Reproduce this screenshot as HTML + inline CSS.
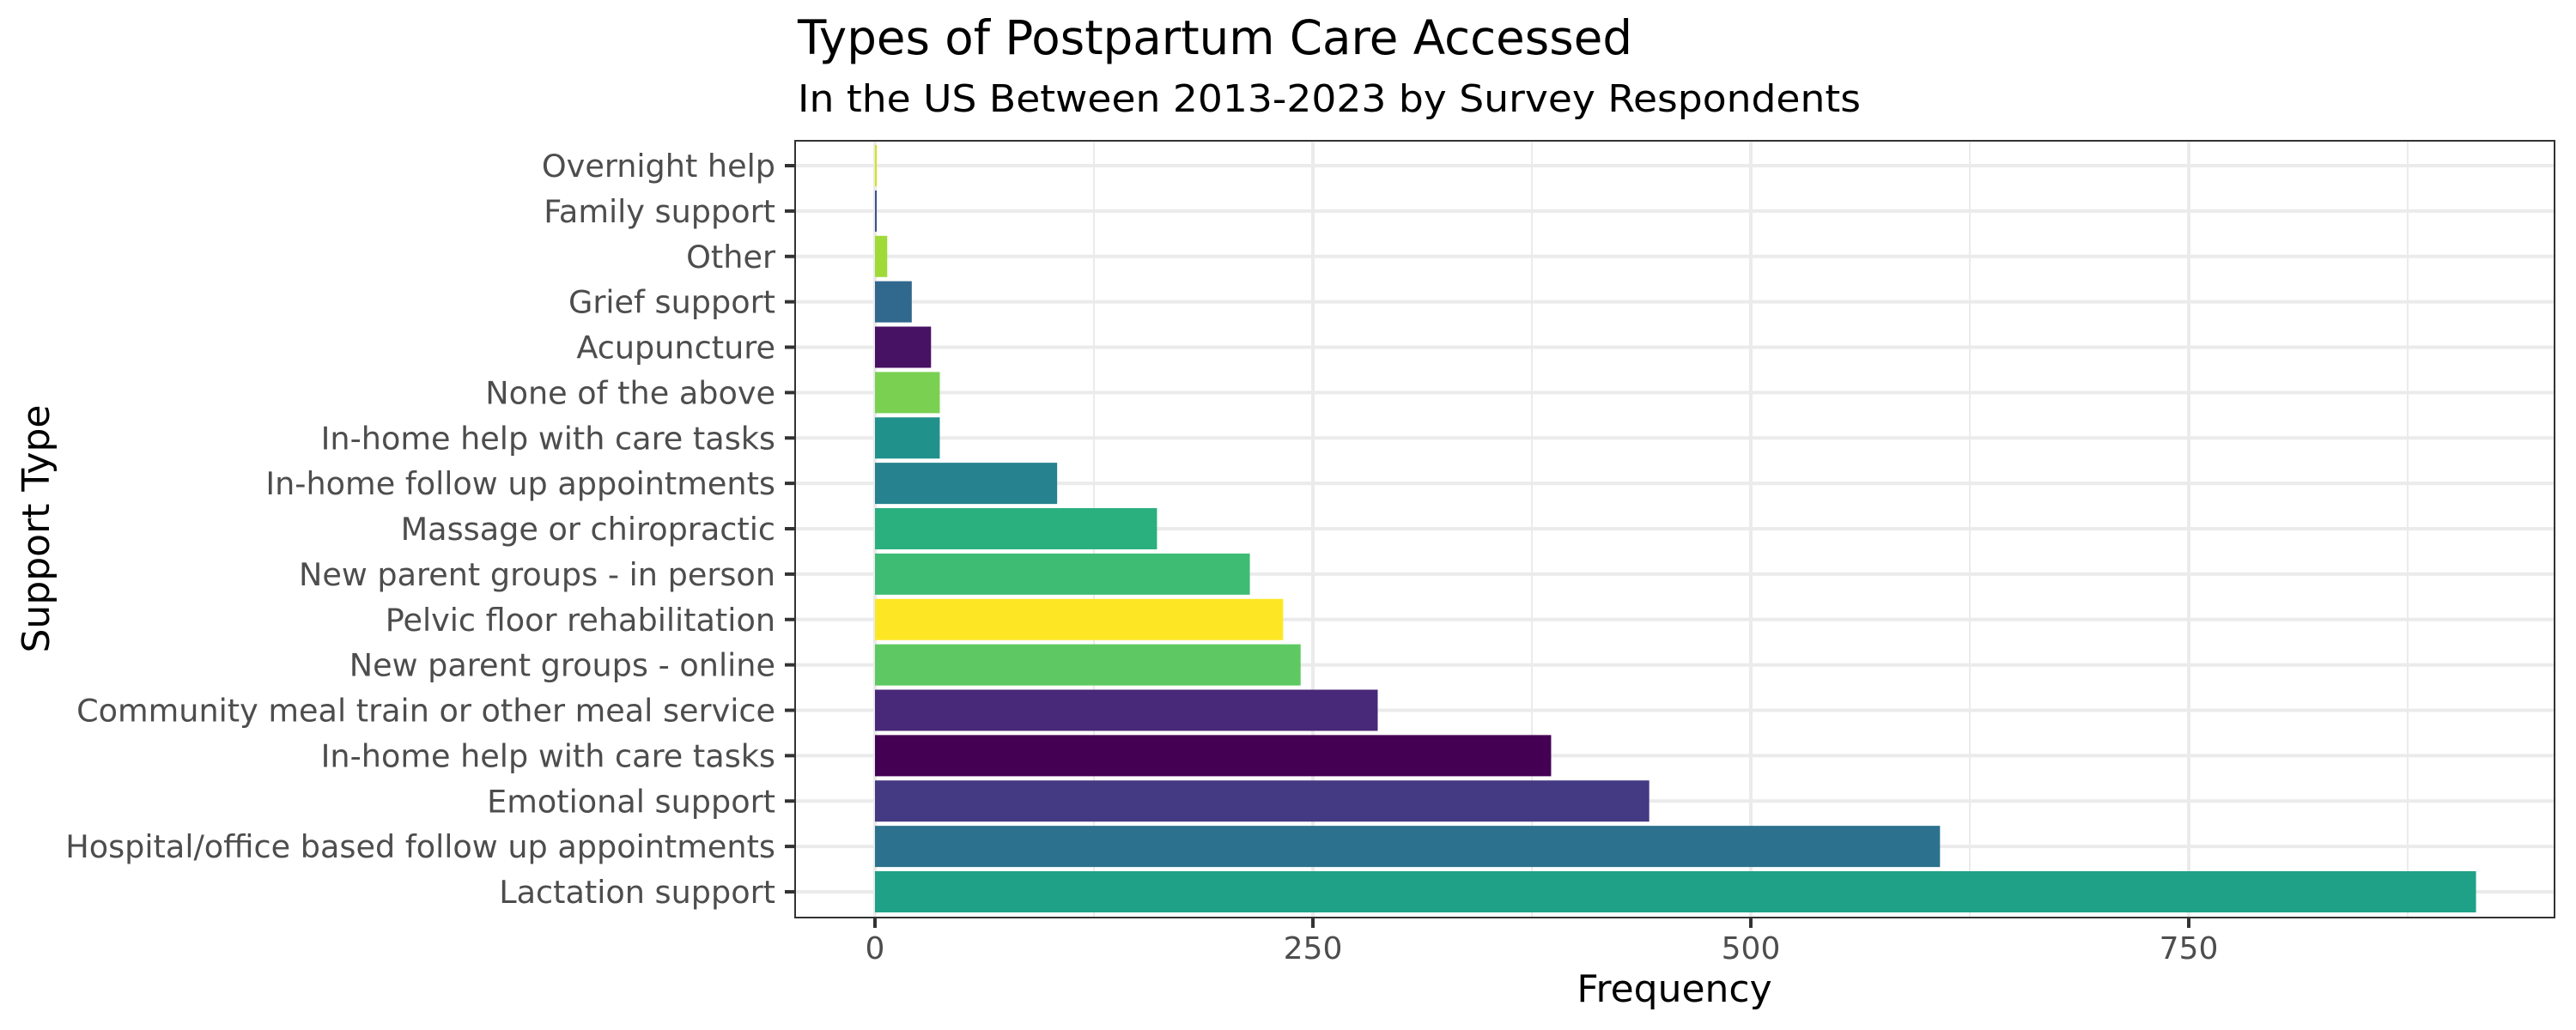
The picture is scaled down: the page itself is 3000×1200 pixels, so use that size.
<!DOCTYPE html>
<html><head><meta charset="utf-8"><style>
html,body{margin:0;padding:0;background:#fff;}
svg{display:block;font-family:"DejaVu Sans","Liberation Sans",sans-serif;}
</style></head><body>
<svg id="chart" width="3000" height="1200" viewBox="0 0 3000 1200">
<text x="929" y="63" font-size="55" fill="#000" textLength="972" lengthAdjust="spacingAndGlyphs">Types of Postpartum Care Accessed</text>
<text x="929" y="130" font-size="44" fill="#000" textLength="1238" lengthAdjust="spacingAndGlyphs">In the US Between 2013-2023 by Survey Respondents</text>
<g id="grid"></g>
<g id="bars"></g>
<rect x="926" y="164" width="2049" height="905" fill="none" stroke="#333" stroke-width="2"/>
<g id="yaxis"></g>
<g id="xaxis"></g>
<text x="1950" y="1167" font-size="44" text-anchor="middle" fill="#000">Frequency</text>
<text transform="translate(57,616) rotate(-90)" font-size="44" text-anchor="middle" fill="#000">Support Type</text>
</svg>
<script>
const categories = ["Overnight help","Family support","Other","Grief support","Acupuncture","None of the above","In-home help with care tasks","In-home follow up appointments","Massage or chiropractic","New parent groups - in person","Pelvic floor rehabilitation","New parent groups - online","Community meal train or other meal service","In-home help with care tasks","Emotional support","Hospital/office based follow up appointments","Lactation support"];
const values = [1,1,7,21,32,37,37,104,161,214,233,243,287,386,442,608,914];
const colors = ["#d2e21b","#3b528b","#a0da39","#31688e","#471164","#7ad151","#21918c","#26828e","#2ab07f","#3fbc73","#fde725","#5ec962","#482878","#440154","#443983","#2c728e","#1fa187"];
const xTicks = [0,250,500,750];
const xMinor = [125,375,625,875];

const NS = "http://www.w3.org/2000/svg";
const X0 = 1019, PXU = 2.04, Y0 = 193, STEP = 52.875, BH = 48;
const PL = 926, PR = 2975, PT = 164, PB = 1069;
function xs(v){ return X0 + v * PXU; }
function ys(i){ return Y0 + i * STEP; }
function mk(tag, attrs, parent){ const e = document.createElementNS(NS, tag); for (const k in attrs) e.setAttribute(k, attrs[k]); parent.appendChild(e); return e; }

const grid = document.getElementById('grid');
xMinor.forEach(v => {
  const l = mk('line', {x1: xs(v), x2: xs(v), y1: PT, y2: PB, stroke: '#ebebeb', 'stroke-width': 2}, grid);
  
  
});
xTicks.forEach(v => {
  const l = mk('line', {x1: xs(v), x2: xs(v), y1: PT, y2: PB, stroke: '#ebebeb', 'stroke-width': 4}, grid);
  
  
});
categories.forEach((c, i) => {
  const l = mk('line', {x1: PL, x2: PR, y1: ys(i), y2: ys(i), stroke: '#ebebeb', 'stroke-width': 4}, grid);
  
  
});

const bars = document.getElementById('bars');
values.forEach((v, i) => {
  const r = mk('rect', {x: xs(0), y: ys(i) - BH/2, width: Math.max(xs(v) - xs(0), 0), height: BH, fill: colors[i]}, bars);
  
  
});

const yaxis = document.getElementById('yaxis');
categories.forEach((c, i) => {
  const t = mk('line', {x1: 914, x2: PL, y1: ys(i), y2: ys(i), stroke: '#333', 'stroke-width': 4}, yaxis);
  
  
  const tx = mk('text', {x: 903, y: ys(i) + 13, 'font-size': 36.6, 'text-anchor': 'end', fill: '#4d4d4d'}, yaxis);
  tx.textContent = c;
  
  
});

const xaxis = document.getElementById('xaxis');
xTicks.forEach(v => {
  const t = mk('line', {x1: xs(v), x2: xs(v), y1: PB, y2: PB + 12, stroke: '#333', 'stroke-width': 4}, xaxis);
  
  
  const tx = mk('text', {x: xs(v), y: 1117, 'font-size': 36, 'text-anchor': 'middle', fill: '#4d4d4d'}, xaxis);
  tx.textContent = String(v);
  
  
});
</script>
</body></html>
